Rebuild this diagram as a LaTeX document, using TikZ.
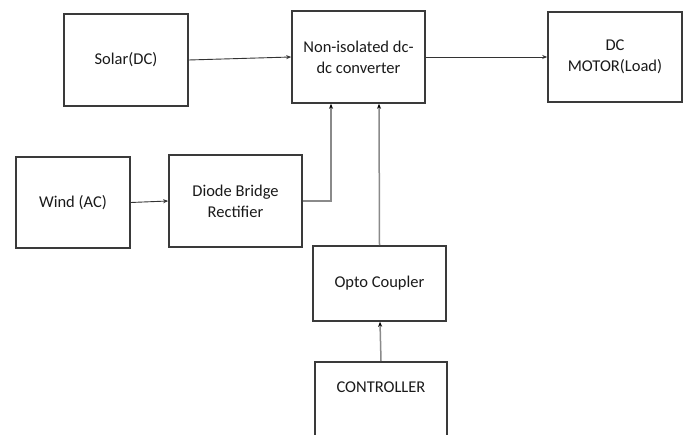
\documentclass[tikz,border=0pt]{standalone}
\usepackage{fontspec}
\setmainfont{Carlito}
\usetikzlibrary{arrows.meta}
\definecolor{boxline}{HTML}{3A3A3A}
\definecolor{txt}{HTML}{1A1A1A}
\definecolor{wire}{HTML}{8A8A8A}
\tikzset{
  blk/.style={draw=boxline, line width=1.6pt, fill=white, inner sep=0pt,
    text=txt, align=center, font=\fontsize{16.5}{21}\selectfont},
  conn/.style={draw=black!80, line width=0.9pt, -{Stealth[length=5pt,width=4pt]}},
  gconn/.style={draw=wire, line width=1.5pt, -{Stealth[length=5pt,width=4pt,color=black]}}
}
\begin{document}
\begin{tikzpicture}[x=1pt,y=-1pt]
\useasboundingbox (0,0) rectangle (685,435);
\clip (0,0) rectangle (685,435);
\fill[white] (0,0) rectangle (685,435);
\node[blk, minimum width=124pt, minimum height=92pt] (solar) at (126,60) {Solar(DC)};
\node[blk, minimum width=133pt, minimum height=92pt] (conv) at (358.5,57) {Non-isolated dc-\\dc converter};
\node[blk, minimum width=134pt, minimum height=90pt] (motor) at (615,57) {DC\\MOTOR(Load)};
\node[blk, minimum width=114pt, minimum height=91pt] (wind) at (73,202.5) {Wind (AC)};
\node[blk, minimum width=133pt, minimum height=92pt] (diode) at (235.5,201) {Diode Bridge\\Rectifier};
\node[blk, minimum width=133pt, minimum height=75pt] (opto) at (379.5,283.5) {Opto Coupler};
\node[blk, anchor=north, minimum width=132pt, minimum height=100pt] (ctrl) at (381,361) {};
\node[text=txt, font=\fontsize{16.5}{21}\selectfont, anchor=center] (ctrltext) at ([yshift=-26pt]ctrl.north) {CONTROLLER};
% connectors
\draw[conn] (solar.east) -- (conv.west);
\draw[conn] (conv.east) -- (motor.west);
\draw[conn] (wind.east) -- (diode.west);
\draw[gconn] (diode.east) -| ([xshift=-27.5pt]conv.south);
\draw[gconn] (opto.north) -- ([xshift=20.5pt]conv.south);
\draw[gconn] (ctrl.north) -- ([xshift=0.5pt]opto.south);
\end{tikzpicture}
\end{document}
